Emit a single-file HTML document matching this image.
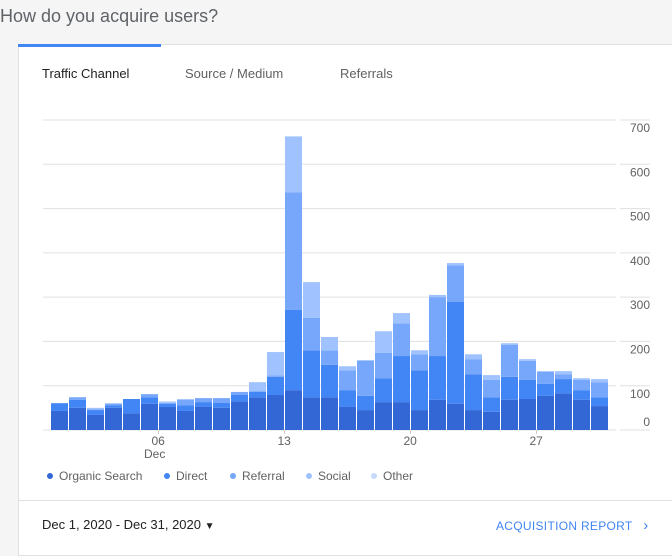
<!DOCTYPE html>
<html><head><meta charset="utf-8"><style>
body{margin:0;width:672px;height:540px;background:#f5f5f5;font-family:"Liberation Sans",sans-serif;overflow:hidden;position:relative}
.title{position:absolute;left:0;top:6px;font-size:18px;color:#5f6368}
.card{position:absolute;left:18px;top:44px;width:660px;height:510px;background:#fff;border:1px solid #e0e0e0}
.tabbar{position:absolute;left:18px;top:44px;width:143px;height:3px;background:#4285f4}
.tab{position:absolute;top:66px;font-size:13px;color:#616161}
.foot{position:absolute;top:500px;left:19px;width:660px;border-top:1px solid #e0e0e0}
</style></head><body>
<div class="title">How do you acquire users?</div>
<div class="card"></div>
<div class="tabbar"></div>
<div class="tab" style="left:42px;color:#212121">Traffic Channel</div>
<div class="tab" style="left:185px">Source / Medium</div>
<div class="tab" style="left:340px">Referrals</div>
<svg id="chart" width="672" height="500" style="position:absolute;left:0;top:0"></svg>
<div class="foot"></div>
<div style="position:absolute;left:42px;top:517px;font-size:13px;color:#212121">Dec 1, 2020 - Dec 31, 2020 <span style="font-size:10px">▼</span></div>
<div style="position:absolute;left:496px;top:517px;font-size:12px;color:#4285f4;letter-spacing:0.3px">ACQUISITION REPORT &nbsp;&nbsp;<span style="font-size:15px">›</span></div>
<script>
const organic=[43,50,34,50,38,59,52,43,52,50,65,74,79,90,74,74,52,45,63,63,45,68,59,45,41,68,70,77,83,68,54];
const direct=[17,18,11,6,32,15,7,13,11,11,14,12,41,181,106,73,38,32,54,104,90,99,230,81,33,52,43,27,32,22,20];
const referral=[1,6,2,4,0,7,3,12,9,11,7,2,3,266,73,33,45,79,57,74,36,133,83,34,39,72,43,27,11,23,34];
const social=[0,0,3,0,0,0,0,2,0,0,0,20,53,126,81,30,9,2,49,23,9,5,5,11,11,4,4,2,7,4,7];
const other=[0,0,0,0,0,0,3,0,0,0,0,0,0,0,0,0,0,0,0,0,0,0,0,0,0,0,0,0,0,0,0];
const yTicks=[0,100,200,300,400,500,600,700];
const xLabels=[[6,"06"],[13,"13"],[20,"20"],[27,"27"]];
const seriesNames=["Organic Search","Direct","Referral","Social","Other"];
const colors=["#3367d6","#4285f4","#76a7fa","#a0c3ff","#c6dafc"];
const NS="http://www.w3.org/2000/svg",svg=document.getElementById("chart");
const y0=430,pxPer=310/700,x0=51,step=18,bw=17;
const Y=v=>y0-v*pxPer, X=i=>x0+i*step;
function mk(t,a){const e=document.createElementNS(NS,t);for(const k in a)e.setAttribute(k,a[k]);svg.appendChild(e);return e;}
yTicks.forEach(t=>{
 const g=mk("line",{x1:43,x2:616,y1:Y(t),y2:Y(t),stroke:"#e0e0e0"});
 
 
 const g2=mk("line",{x1:620,x2:650,y1:Y(t),y2:Y(t),stroke:"#e0e0e0"});
 
 
 const ty=t===0?Y(t)-4:(t===100?Y(t)+12:Y(t)+12);
 const l=mk("text",{x:650,y:t===0?426:(t===100?398:Y(t)+12),"text-anchor":"end","font-size":"12",fill:"#616161"});
 l.textContent=t;
 
 
});
const series=[organic,direct,referral,social,other];
for(let i=0;i<organic.length;i++){
 let acc=0;
 series.forEach((s,k)=>{
  if(s[i]<=0)return;
  const r=mk("rect",{x:X(i),y:Y(acc+s[i]),width:bw,height:s[i]*pxPer,fill:colors[k]});
  
  
  acc+=s[i];
 });
}
xLabels.forEach(([d,lab])=>{
 const cx=X(d-1)+bw/2+9;
 const tk=mk("line",{x1:cx,x2:cx,y1:430,y2:434,stroke:"#ccc"});
 
 
 const t=mk("text",{x:cx-7,y:445,"font-size":"12",fill:"#616161"});
 t.textContent=lab;
 
 
});
const dec=mk("text",{x:144,y:458,"font-size":"12",fill:"#616161"});
dec.textContent="Dec";


const lx=[46,163,229,305,370];
seriesNames.forEach((n,k)=>{
 const c=mk("circle",{cx:lx[k]+4,cy:476,r:3,fill:colors[k]});
 
 
 const t=mk("text",{x:lx[k]+13,y:480,"font-size":"12",fill:"#616161"});
 t.textContent=n;
 
 
});
</script>
</body></html>
